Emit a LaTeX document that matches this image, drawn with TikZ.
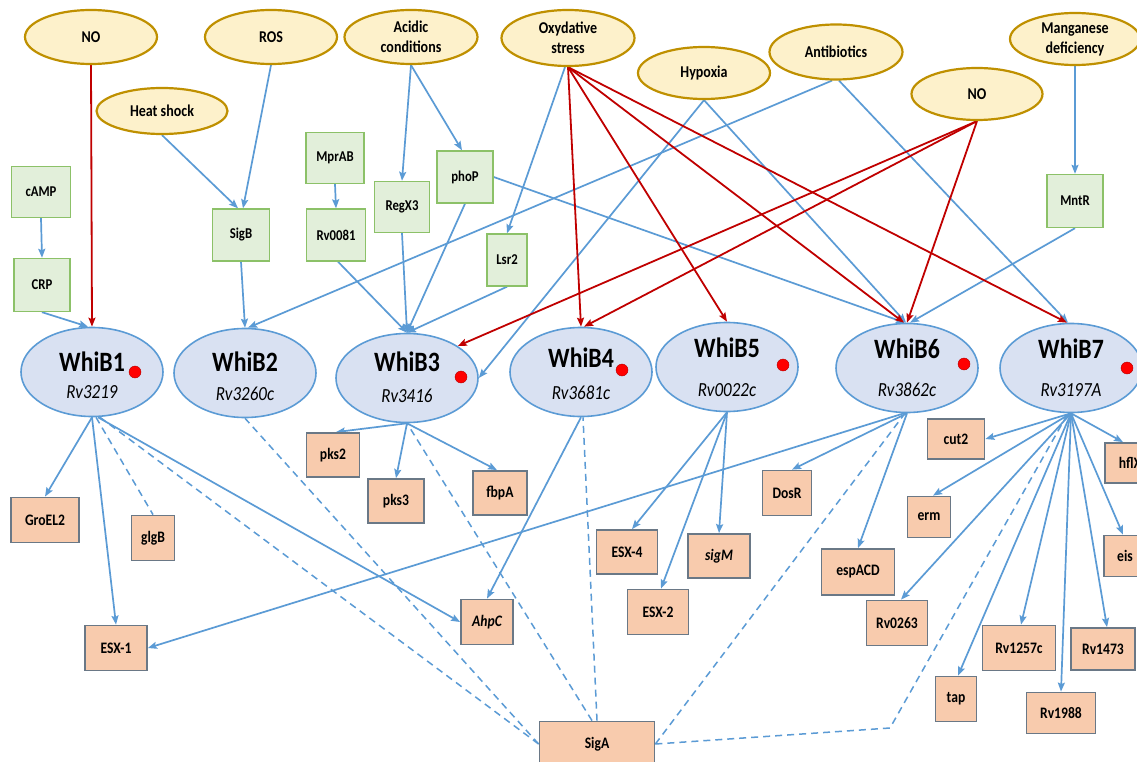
\documentclass[tikz,border=0pt]{standalone}
\usepackage{fontspec}
\setmainfont[FakeStretch=0.85]{Carlito}
\usetikzlibrary{shapes.geometric,arrows.meta,calc}
\definecolor{ylwfill}{HTML}{FDF1CB}
\definecolor{ylwdraw}{HTML}{BF9000}
\definecolor{grnfill}{HTML}{E2EFDA}
\definecolor{grndraw}{HTML}{8CC168}
\definecolor{bluefill}{HTML}{D9E1F2}
\definecolor{bluedraw}{HTML}{5B9BD5}
\definecolor{orgfill}{HTML}{F8CBAD}
\definecolor{orgdraw}{HTML}{6A7886}
\definecolor{edgeblue}{HTML}{5B9BD5}
\definecolor{edgered}{HTML}{C00000}
\pgfdeclarelayer{bg}
\pgfsetlayers{bg,main}
\newcommand\whibnode[9]{%
  \node[whib] (#1) at (#2,#3) {};
  \node[wtitle] (#1t) at (#2,#6) {#4};
  \node[wsub] (#1s) at (#2,#7) {#5};
  \ifx&#8&\else\node[rdot] (#1d) at (#8,#9) {};\fi}
\begin{document}
\begin{tikzpicture}[x=1pt,y=-1pt,
  stim/.style={ellipse, draw=ylwdraw, fill=ylwfill, line width=2.2pt, inner sep=0pt, align=center, font=\fontsize{16.5}{20}\selectfont\bfseries},
  reg/.style={rectangle, draw=grndraw, fill=grnfill, line width=1.4pt, inner sep=0pt, font=\fontsize{15}{18}\selectfont\bfseries},
  whib/.style={ellipse, draw=bluedraw, fill=bluefill, line width=1.6pt, minimum width=142pt, minimum height=89pt, inner sep=0pt},
  wtitle/.style={anchor=base, inner sep=0pt, font=\fontsize{28}{30}\selectfont\bfseries},
  wsub/.style={anchor=base, inner sep=0pt, font=\fontsize{20}{22}\selectfont\itshape},
  rdot/.style={circle, fill=red, draw=red!70!black, line width=0.4pt, minimum size=12pt, inner sep=0pt},
  tgt/.style={rectangle, draw=orgdraw, fill=orgfill, line width=1.8pt, inner sep=0pt, font=\fontsize{16}{19}\selectfont\bfseries},
  barrow/.style={draw=edgeblue, line width=1.7pt, -{Stealth[length=9pt,width=7pt,inset=1.5pt]}},
  rarrow/.style={draw=edgered, line width=1.8pt, -{Stealth[length=9pt,width=7pt,inset=1.5pt]}},
  dashline/.style={draw=edgeblue, line width=1.5pt, dash pattern=on 7pt off 5pt}
]
\useasboundingbox (0,0) rectangle (1137,762);

% stimuli
\node[stim, minimum width=132pt, minimum height=54pt] (no1) at (91,37) {NO};
\node[stim, minimum width=132pt, minimum height=54pt] (ros) at (271,37) {ROS};
\node[stim, minimum width=131pt, minimum height=46pt] (heat) at (162,111) {Heat shock};
\node[stim, minimum width=133pt, minimum height=54pt] (acid) at (411,37) {Acidic\\conditions};
\node[stim, minimum width=133pt, minimum height=56pt] (oxy) at (568,38) {Oxydative\\stress};
\node[stim, minimum width=132pt, minimum height=52pt] (hyp) at (704,73) {Hypoxia};
\node[stim, minimum width=133pt, minimum height=55pt] (anti) at (836,52) {Antibiotics};
\node[stim, minimum width=131pt, minimum height=52pt] (no2) at (977,94) {NO};
\node[stim, minimum width=130pt, minimum height=52pt] (mn) at (1075,39) {Manganese\\deficiency};

% regulators
\node[reg, minimum width=59pt, minimum height=51pt] (camp) at (41,192) {cAMP};
\node[reg, minimum width=56pt, minimum height=53pt] (crp) at (42,285) {CRP};
\node[reg, minimum width=57pt, minimum height=52pt] (sigb) at (241,235) {SigB};
\node[reg, minimum width=58pt, minimum height=51pt] (mprab) at (335,158) {MprAB};
\node[reg, minimum width=59pt, minimum height=52pt] (rv0081) at (336,235) {Rv0081};
\node[reg, minimum width=55pt, minimum height=51pt] (regx3) at (402,207) {RegX3};
\node[reg, minimum width=56pt, minimum height=52pt] (phop) at (465,177) {phoP};
\node[reg, minimum width=40pt, minimum height=52pt] (lsr2) at (507,260) {Lsr2};
\node[reg, minimum width=56pt, minimum height=53pt] (mntr) at (1075,201) {MntR};

% WhiB proteins
\whibnode{w1}{92}{372}{WhiB1}{Rv3219}{371}{398}{135}{372}
\whibnode{w2}{245}{373}{WhiB2}{Rv3260c}{371}{400}{}{}
\whibnode{w3}{407}{378}{WhiB3}{Rv3416}{371}{402}{461}{377}
\whibnode{w4}{581}{372}{WhiB4}{Rv3681c}{367}{399}{622}{370}
\whibnode{w5}{727}{367}{WhiB5}{Rv0022c}{357}{396}{783}{365}
\whibnode{w6}{907}{368}{WhiB6}{Rv3862c}{358}{396}{964}{364}
\whibnode{w7}{1071}{368}{WhiB7}{Rv3197A}{358}{396}{1127}{368}

% targets
\node[tgt, minimum width=68pt, minimum height=45pt] (groel2) at (45,520) {GroEL2};
\node[tgt, minimum width=43pt, minimum height=45pt] (glgb) at (153,538) {glgB};
\node[tgt, minimum width=53pt, minimum height=44pt] (pks2) at (333,455) {pks2};
\node[tgt, minimum width=56pt, minimum height=44pt] (pks3) at (396,501) {pks3};
\node[tgt, minimum width=54pt, minimum height=44pt] (fbpa) at (500,493) {fbpA};
\node[tgt, minimum width=52pt, minimum height=45pt] (ahpc) at (487,622) {\itshape AhpC};
\node[tgt, minimum width=62pt, minimum height=45pt] (esx1) at (116,648) {ESX-1};
\node[tgt, minimum width=115pt, minimum height=45pt] (siga) at (597,744) {SigA};
\node[tgt, minimum width=61pt, minimum height=44pt] (esx4) at (627,552) {ESX-4};
\node[tgt, minimum width=62pt, minimum height=44pt] (sigm) at (719,556) {\itshape sigM};
\node[tgt, minimum width=61pt, minimum height=45pt] (esx2) at (658,612) {ESX-2};
\node[tgt, minimum width=49pt, minimum height=45pt] (dosr) at (787,493) {DosR};
\node[tgt, minimum width=73pt, minimum height=46pt] (espacd) at (858,572) {espACD};
\node[tgt, minimum width=61pt, minimum height=45pt] (rv0263) at (897,623) {Rv0263};
\node[tgt, minimum width=57pt, minimum height=40pt] (cut2) at (956,439) {cut2};
\node[tgt, minimum width=43pt, minimum height=41pt] (erm) at (929,517) {erm};
\node[tgt, minimum width=41pt, minimum height=45pt] (tap) at (956,699) {tap};
\node[tgt, minimum width=73pt, minimum height=45pt] (rv1257c) at (1019,648) {Rv1257c};
\node[tgt, minimum width=69pt, minimum height=41pt] (rv1988) at (1061,713) {Rv1988};
\node[tgt, minimum width=64pt, minimum height=42pt] (rv1473) at (1103,649) {Rv1473};
\node[tgt, minimum width=50pt, minimum height=40pt] (hflx) at (1130,463) {hflX};
\node[tgt, minimum width=42pt, minimum height=41pt] (eis) at (1125,556) {eis};
\coordinate (bend7) at (890,728);

\begin{pgfonlayer}{bg}
\fill[white] (0,0) rectangle (1137,762);
% upper blue arrows
\draw[barrow] (camp.south) -- (crp.north);
\draw[barrow] (crp.south) -- ($(w1.north)+(-4,0)$);
\draw[barrow] (ros.south) -- ($(sigb.north)+(2,0)$);
\draw[barrow] (heat.south) -- ($(sigb.north)+(-3,0)$);
\draw[barrow] (sigb.south) -- (w2.north);
\draw[barrow] ($(anti.south)+(-4,0)$) -- ($(w2.north)+(3,0)$);
\draw[barrow] ($(anti.south)+(3,0)$) -- ($(w7.north)+(-3,0)$);
\draw[barrow] (mprab.south) -- (rv0081.north);
\draw[barrow] ($(rv0081.south)+(2,0)$) -- (w3.north);
\draw[barrow] (acid.south) -- (regx3.north);
\draw[barrow] (acid.south) -- ($(phop.north)+(-3,0)$);
\draw[barrow] (regx3.south) -- (w3.north);
\draw[barrow] (phop.south) -- (w3.north);
\draw[barrow] (lsr2.south) -- (w3.north);
\draw[barrow] ($(oxy.south)+(-3,0)$) -- (lsr2.north);
\draw[barrow] (phop.east) -- ($(w6.north)+(-2,0)$);
\draw[barrow] (hyp.south) -- (w3.east);
\draw[barrow] (hyp.south) -- ($(w6.north)+(-1,0)$);
\draw[barrow] (mn.south) -- (mntr.north);
\draw[barrow] (mntr.south) -- ($(w6.north)+(3,0)$);
% red arrows
\draw[rarrow] (no1.south) -- (w1.north);
\draw[rarrow] (oxy.south) -- (w4.north);
\draw[rarrow] (oxy.south) -- (w5.north);
\draw[rarrow] (oxy.south) -- ($(w6.north)+(-3,0)$);
\draw[rarrow] (oxy.south) -- ($(w7.north)+(-4,0)$);
\draw[rarrow] (no2.south) -- (w3.north east);
\draw[rarrow] (no2.south) -- ($(w4.north)+(3,0)$);
\draw[rarrow] (no2.south) -- (w6.north);
% lower arrows
\draw[barrow] (w1.south) -- (groel2.north);
\draw[barrow] (w1.south) -- (esx1.north);
\draw[dashline] ($(w1.south)+(4,0)$) -- (glgb.north);
\draw[barrow] ($(w1.south)+(6,0)$) -- (ahpc.west);
\draw[dashline] (siga.west) -- ($(w1.south)+(8,0)$);
\draw[dashline] (siga.west) -- (w2.south);
\draw[barrow] (w3.south) -- ($(pks2.north)+(3,0)$);
\draw[barrow] (w3.south) -- (pks3.north);
\draw[barrow] (w3.south) -- ($(fbpa.north)+(-3,0)$);
\draw[dashline] ($(siga.north)+(-5,0)$) -- (w3.south);
\draw[barrow] (w4.south) -- (ahpc.north);
\draw[dashline] (siga.north) -- ($(w4.south)+(2,0)$);
\draw[barrow] (w5.south) -- ($(esx4.north)+(5,0)$);
\draw[barrow] (w5.south) -- ($(esx2.north)+(3,0)$);
\draw[barrow] (w5.south) -- (sigm.north);
\draw[barrow] ($(w6.south)+(-3,0)$) -- (esx1.east);
\draw[barrow] (w6.south) -- ($(dosr.north)+(5,0)$);
\draw[barrow] (w6.south) -- (espacd.north);
\draw[dashline] (siga.east) -- ($(w6.south)+(-2,0)$);
\draw[barrow] (w7.south) -- (cut2.east);
\draw[barrow] (w7.south) -- ($(hflx.north)+(-7,0)$);
\draw[barrow] (w7.south) -- ($(erm.north)+(4,0)$);
\draw[barrow] (w7.south) -- ($(rv0263.north)+(4,0)$);
\draw[barrow] (w7.south) -- ($(tap.north)+(2,0)$);
\draw[barrow] (w7.south) -- ($(rv1257c.north)+(2,0)$);
\draw[barrow] (w7.south) -- (rv1988.north);
\draw[barrow] (w7.south) -- ($(rv1473.north)+(4,0)$);
\draw[barrow] (w7.south) -- ($(eis.north)+(-2,0)$);
\draw[dashline] (siga.east) -- (bend7) -- ($(w7.south)+(-3,0)$);
\end{pgfonlayer}
\end{tikzpicture}
\end{document}
